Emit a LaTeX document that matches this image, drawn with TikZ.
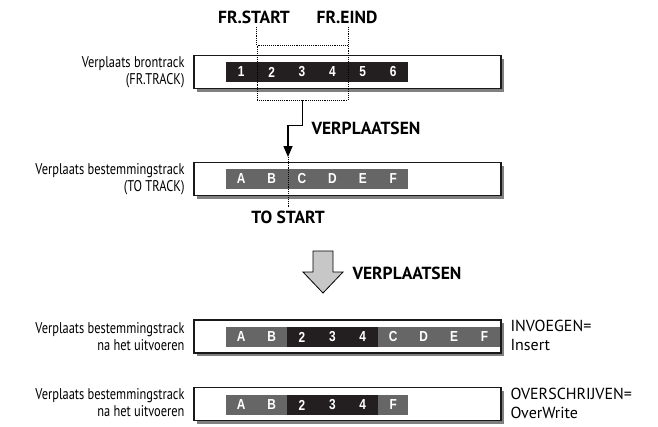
\documentclass[tikz,border=0pt]{standalone}
\usepackage{fontspec}
\setmainfont{PT Sans}
\newfontfamily\lblfont[FakeStretch=0.8]{PT Sans}
\newfontfamily\cellfont[FakeStretch=0.82]{Liberation Sans}
\usepackage{tikz}
\usetikzlibrary{arrows.meta,calc,positioning,shadows}
\definecolor{srcblack}{HTML}{231F20}
\definecolor{dstgrey}{HTML}{666666}

\begin{document}
\begin{tikzpicture}[x=1pt, y=-1pt, every node/.style={font=\lblfont\fontsize{15.5}{17}\selectfont},
  track/.style={draw=black!90, line width=1.1pt, fill=white, minimum width=307pt,
    minimum height=33pt, inner sep=0pt,
    drop shadow={shadow xshift=3pt, shadow yshift=-3pt, fill=black!50, opacity=1}},
  cell/.style={minimum width=30.4pt, minimum height=20pt, inner sep=0pt, text=white,
    font=\cellfont\bfseries\fontsize{14.5}{14.5}\selectfont},
  src/.style={cell, fill=srcblack},
  dst/.style={cell, fill=dstgrey},
  lbl/.style={align=right, anchor=east},
  tag/.style={font=\bfseries\fontsize{17.5}{20}\selectfont},
  pick/.style={densely dotted, line width=0.9pt},
  result/.style={align=left, anchor=west, font=\fontsize{16}{19}\selectfont}]
  \useasboundingbox (0,0) rectangle (658,426);
  % source track
  \node[track] (frtrack) at (347.5,72) {};
  \node[lbl] (frlbl) at (188,72) {Verplaats brontrack\\(FR.TRACK)};
  \node[src] (f1) at (241.2,72) {1};
  \node[src] (f2) at (271.6,72) {2};
  \node[src] (f3) at (302.0,72) {3};
  \node[src] (f4) at (332.4,72) {4};
  \node[src] (f5) at (362.8,72) {5};
  \node[src] (f6) at (393.2,72) {6};
  % selected range
  \node[tag] (frstart) at (254,17) {FR.START};
  \node[tag] (freind) at (347,17) {FR.EIND};
  \node[draw, pick, minimum width=91pt, minimum height=55pt, inner sep=0pt] (sel) at (302.5,72.5) {};
  \draw[pick] (frstart.south -| sel.north west) -- (sel.north west);
  \draw[pick] (freind.south -| sel.north east) -- (sel.north east);
  % destination track
  \node[track] (totrack) at (347.5,179) {};
  \node[lbl] (tolbl) at (188,179.5) {Verplaats bestemmingstrack\\(TO TRACK)};
  \node[dst] (t1) at (241.2,178.5) {A};
  \node[dst] (t2) at (271.6,178.5) {B};
  \node[dst] (t3) at (302.0,178.5) {C};
  \node[dst] (t4) at (332.4,178.5) {D};
  \node[dst] (t5) at (362.8,178.5) {E};
  \node[dst] (t6) at (393.2,178.5) {F};
  \coordinate (tohit) at (288,157);
  \node[tag] (tostart) at (288,217) {TO START};
  \draw[pick] (tohit) -- (tostart.north);
  \draw[line width=1.5pt, -{Triangle[width=9pt,length=11pt]}] (sel.south) -- ++(0,25) -| (tohit);
  \node[tag, anchor=west] (move1) at (308,128) {VERPLAATSEN};
  % big arrow
  \draw[fill=black!22, line width=0.8pt] (313,251) -- (333,251) -- (333,272) -- (343,272)
    -- (323,293) -- (303,272) -- (313,272) -- cycle;
  \node[tag, anchor=west] (move2) at (349,273) {VERPLAATSEN};
  % result insert
  \node[track] (insres) at (347.5,336.5) {};
  \node[lbl] (inslbl) at (188,337) {Verplaats bestemmingstrack\\na het uitvoeren};
  \node[dst] (i1) at (241.2,337) {A};
  \node[dst] (i2) at (271.6,337) {B};
  \node[src] (i3) at (302.0,337) {2};
  \node[src] (i4) at (332.4,337) {3};
  \node[src] (i5) at (362.8,337) {4};
  \node[dst] (i6) at (393.2,337) {C};
  \node[dst] (i7) at (423.6,337) {D};
  \node[dst] (i8) at (454.0,337) {E};
  \node[dst] (i9) at (484.4,337) {F};
  \node[result] (insmode) at (507,335.5) {INVOEGEN=\\Insert};
  % result overwrite
  \node[track] (ovwres) at (347.5,404) {};
  \node[lbl] (ovwlbl) at (188,403) {Verplaats bestemmingstrack\\na het uitvoeren};
  \node[dst] (o1) at (241.2,405) {A};
  \node[dst] (o2) at (271.6,405) {B};
  \node[src] (o3) at (302.0,405) {2};
  \node[src] (o4) at (332.4,405) {3};
  \node[src] (o5) at (362.8,405) {4};
  \node[dst] (o6) at (393.2,405) {F};
  \node[result] (ovwmode) at (507,403) {OVERSCHRIJVEN=\\OverWrite};
\end{tikzpicture}
\end{document}
